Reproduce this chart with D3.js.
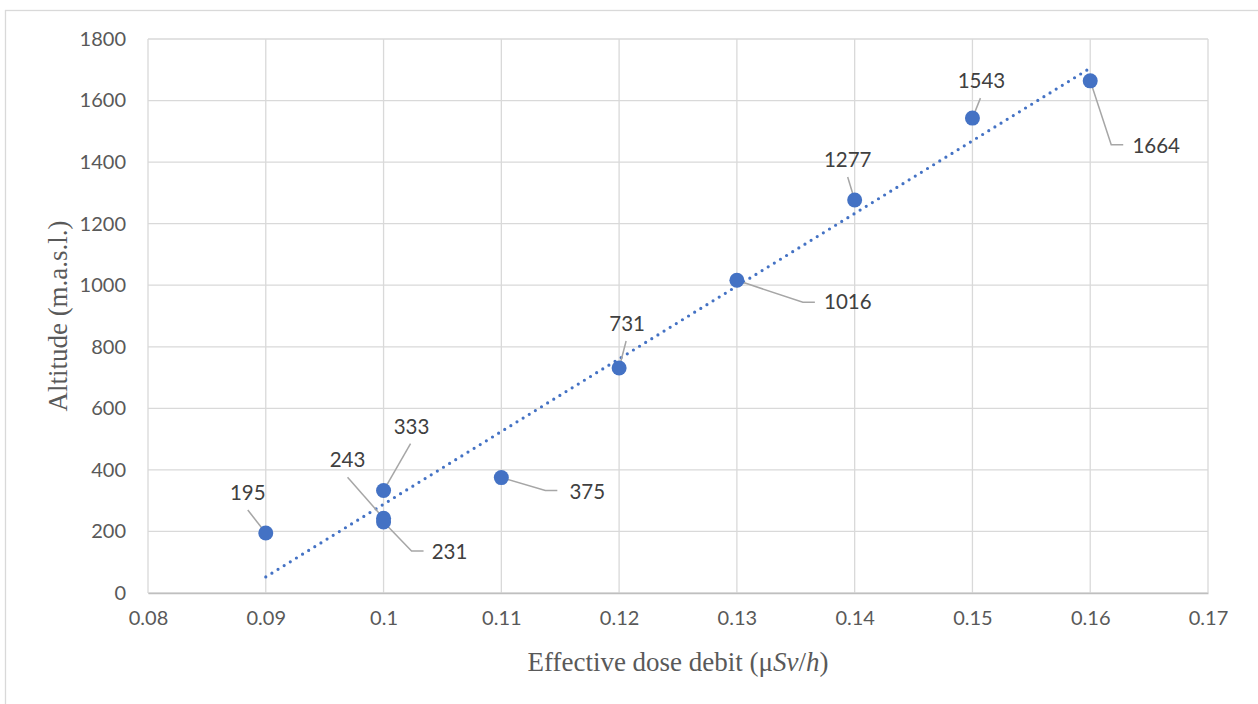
<!DOCTYPE html>
<head>
  <meta charset="utf-8">
  <script src="https://d3js.org/d3.v7.min.js"></script>
  <style>
    body { margin:0; background:#fff; }
    .grid line { stroke:#d9d9d9; stroke-width:1.3px; }
    .tick text { fill:#595959; font-family:Lato, "Open Sans", sans-serif; font-size:20px; }
    .lbl { fill:#404040; font-family:Lato, "Open Sans", sans-serif; font-size:20.5px; }
    .title { fill:#595959; font-family:"Liberation Serif", serif; font-size:27px; }
    .leader { fill:none; stroke:#a6a6a6; stroke-width:1.5px; }
  </style>
</head>

<body>
  <script>
    // readings: dose (uSv/h) vs altitude
    var dose     = [0.09, 0.1, 0.1, 0.1, 0.11, 0.12, 0.13, 0.14, 0.15, 0.16];
    var altitude = [195, 333, 243, 231, 375, 731, 1016, 1277, 1543, 1664];
    var xTicks = [0.08, 0.09, 0.1, 0.11, 0.12, 0.13, 0.14, 0.15, 0.16, 0.17];
    var yTicks = [0, 200, 400, 600, 800, 1000, 1200, 1400, 1600, 1800];
    var xTickLabels = ["0.08", "0.09", "0.1", "0.11", "0.12", "0.13", "0.14", "0.15", "0.16", "0.17"];

    // label placement relative to the point (pixels): text centre and leader elbow
    var labelOffsets = [
      {dx:-18, dy:-40, elbow:null},
      {dx: 28, dy:-64, elbow:null},
      {dx:-36, dy:-58, elbow:null},
      {dx: 66, dy: 30, elbow:[28, 29]},
      {dx: 86, dy: 14, elbow:[44, 13]},
      {dx:  8, dy:-44, elbow:null},
      {dx:111, dy: 22, elbow:[66, 22]},
      {dx: -7, dy:-40, elbow:null},
      {dx:  9, dy:-37, elbow:null},
      {dx: 66, dy: 65, elbow:[21, 64]}
    ];

    var W = 1258, H = 704;
    var margin = {top: 39, right: 50, bottom: 111, left: 148};

    var svg = d3.select("body").append("svg")
      .attr("width", W)
      .attr("height", H);

    // outer frame
    svg.append("rect")
      .attr("x", 5.5).attr("y", 10.5)
      .attr("width", W + 10).attr("height", H + 10)
      .attr("fill", "none").attr("stroke", "#d9d9d9").attr("stroke-width", 1.3);

    var x = d3.scaleLinear().domain([0.08, 0.17]).range([margin.left, W - margin.right]);
    var y = d3.scaleLinear().domain([0, 1800]).range([H - margin.bottom, margin.top]);

    // gridlines
    svg.append("g").attr("class", "grid")
      .selectAll("line").data(yTicks).enter().append("line")
      .attr("x1", x(0.08)).attr("x2", x(0.17))
      .attr("y1", function(d) { return y(d); }).attr("y2", function(d) { return y(d); });
    svg.append("g").attr("class", "grid")
      .selectAll("line").data(xTicks).enter().append("line")
      .attr("y1", y(0)).attr("y2", y(1800))
      .attr("x1", function(d) { return x(d); }).attr("x2", function(d) { return x(d); });

    // axes
    var xAxis = svg.append("g")
      .attr("transform", "translate(0," + y(0) + ")")
      .call(d3.axisBottom(x).tickValues(xTicks).tickSize(0).tickPadding(18)
        .tickFormat(function(d, i) { return xTickLabels[i]; }));
    xAxis.select(".domain").attr("stroke", "#bfbfbf").attr("stroke-width", 1.5);

    var yAxis = svg.append("g")
      .attr("transform", "translate(" + x(0.08) + ",0)")
      .call(d3.axisLeft(y).tickValues(yTicks).tickSize(0).tickPadding(22)
        .tickFormat(d3.format("d")));
    yAxis.select(".domain").remove();

    // trendline (least squares)
    var mx = d3.mean(dose), my = d3.mean(altitude);
    var sxy = d3.sum(dose, function(d, i) { return (d - mx) * (altitude[i] - my); });
    var sxx = d3.sum(dose, function(d) { return (d - mx) * (d - mx); });
    var slope = sxy / sxx, icpt = my - slope * mx;
    var ends = d3.extent(dose);
    svg.append("path")
      .datum(ends)
      .attr("d", d3.line()
        .x(function(d) { return x(d); })
        .y(function(d) { return y(icpt + slope * d); }))
      .attr("fill", "none")
      .attr("stroke", "#4472c4")
      .attr("stroke-width", 3.2)
      .attr("stroke-linecap", "round")
      .attr("stroke-dasharray", "0 7.2");

    var pts = dose.map(function(d, i) {
      return {x: x(d), y: y(altitude[i]), v: altitude[i], o: labelOffsets[i]};
    });

    // leader lines
    svg.selectAll(".leader").data(pts).enter().append("path")
      .attr("class", "leader")
      .attr("d", function(p) {
        var o = p.o;
        if (o.elbow) {
          return "M" + p.x + "," + p.y +
                 "L" + (p.x + o.elbow[0]) + "," + (p.y + o.elbow[1]) +
                 "h12";
        }
        var tx = p.x + o.dx, ty = p.y + o.dy;
        var sy = ty + (o.dy < 0 ? 17 : -17);
        return "M" + (tx + (o.dx < 0 ? 0 : -1)) + "," + sy + "L" + p.x + "," + p.y;
      });

    // points
    svg.selectAll("circle").data(pts).enter().append("circle")
      .attr("cx", function(p) { return p.x; })
      .attr("cy", function(p) { return p.y; })
      .attr("r", 7.5)
      .attr("fill", "#4472c4");

    // data labels
    svg.selectAll(".lbl").data(pts).enter().append("text")
      .attr("class", "lbl")
      .attr("x", function(p) { return p.x + p.o.dx; })
      .attr("y", function(p) { return p.y + p.o.dy; })
      .attr("text-anchor", "middle")
      .attr("dy", "0.35em")
      .text(function(p) { return p.v; });

    // axis titles
    var xt = svg.append("text").attr("class", "title")
      .attr("x", (x(0.08) + x(0.17)) / 2).attr("y", 671)
      .attr("text-anchor", "middle");
    xt.append("tspan").text("Effective dose debit (μ");
    xt.append("tspan").attr("font-style", "italic").text("Sv");
    xt.append("tspan").text("/");
    xt.append("tspan").attr("font-style", "italic").text("h");
    xt.append("tspan").text(")");

    svg.append("text").attr("class", "title")
      .attr("transform", "translate(67," + (y(0) + y(1800)) / 2 + ") rotate(-90)")
      .attr("text-anchor", "middle")
      .text("Altitude (m.a.s.l.)");
  </script>
</body>
